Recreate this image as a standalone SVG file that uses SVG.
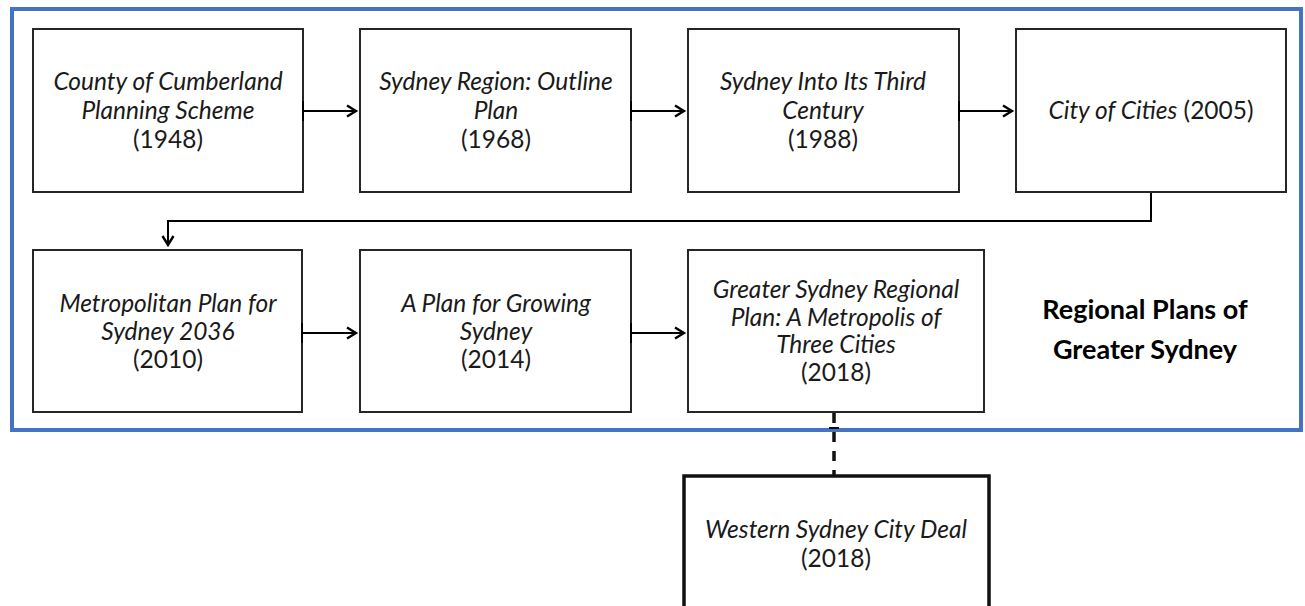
<svg xmlns="http://www.w3.org/2000/svg" width="1305" height="606" viewBox="0 0 1305 606">
<defs>
<style>
.box{fill:#fff;stroke:#262626;stroke-width:2}
.box8{fill:#fff;stroke:#111;stroke-width:3.5}
.t{font-family:Lato,"Liberation Sans",sans-serif;font-size:24.5px;fill:#1a1a1a;text-anchor:middle}
.i{font-style:italic}
.title{font-family:Lato,"Liberation Sans",sans-serif;font-size:27px;font-weight:bold;fill:#000;text-anchor:middle}
.c{fill:none;stroke:#000;stroke-width:2}
.d{fill:none;stroke:#111;stroke-width:3.5;stroke-dasharray:10,9}
</style>
<marker id="ah" markerWidth="14" markerHeight="14" refX="11" refY="7" orient="auto" markerUnits="userSpaceOnUse">
<path d="M2,1.5 L11,7 L2,12.5" fill="none" stroke="#000" stroke-width="2.4"/>
</marker>
</defs>
<rect width="1305" height="606" fill="#fff"/>
<rect x="12" y="9" width="1289" height="421" fill="none" stroke="#4472C4" stroke-width="4"/>
<g id="n1">
<rect class="box" x="33" y="29" width="270" height="163"/>
<text class="t i" x="168" y="90">County of Cumberland</text>
<text class="t i" x="168" y="119">Planning Scheme</text>
<text class="t" x="168" y="148">(1948)</text>
</g>
<g id="n2">
<rect class="box" x="360" y="29" width="271" height="163"/>
<text class="t i" x="496" y="90">Sydney Region: Outline</text>
<text class="t i" x="496" y="119">Plan</text>
<text class="t" x="496" y="148">(1968)</text>
</g>
<g id="n3">
<rect class="box" x="688" y="29" width="271" height="163"/>
<text class="t i" x="823" y="90">Sydney Into Its Third</text>
<text class="t i" x="823" y="119">Century</text>
<text class="t" x="823" y="148">(1988)</text>
</g>
<g id="n4">
<rect class="box" x="1016" y="29" width="270" height="163"/>
<text class="t" x="1151" y="119"><tspan class="i">City of Cities</tspan> (2005)</text>
</g>
<g id="n5">
<rect class="box" x="33" y="250" width="269" height="162"/>
<text class="t i" x="168" y="312">Metropolitan Plan for</text>
<text class="t i" x="168" y="340">Sydney 2036</text>
<text class="t" x="168" y="368">(2010)</text>
</g>
<g id="n6">
<rect class="box" x="360" y="250" width="271" height="162"/>
<text class="t i" x="496" y="312">A Plan for Growing</text>
<text class="t i" x="496" y="340">Sydney</text>
<text class="t" x="496" y="368">(2014)</text>
</g>
<g id="n7">
<rect class="box" x="688" y="250" width="296" height="162"/>
<text class="t i" x="836" y="298">Greater Sydney Regional</text>
<text class="t i" x="836" y="326">Plan: A Metropolis of</text>
<text class="t i" x="836" y="353">Three Cities</text>
<text class="t" x="836" y="381">(2018)</text>
</g>
<g id="title">
<text class="title" x="1145" y="319">Regional Plans of</text>
<text class="title" x="1145" y="359">Greater Sydney</text>
</g>
<g id="n8">
<rect class="box8" x="684" y="476" width="305" height="140"/>
<text class="t i" x="836" y="538">Western Sydney City Deal</text>
<text class="t" x="836" y="567">(2018)</text>
</g>
<g id="connectors">
<path class="c" d="M303,111 H356" marker-end="url(#ah)"/>
<path class="c" d="M303,101 V121" stroke-width="3"/>
<path class="c" d="M631,111 H684" marker-end="url(#ah)"/>
<path class="c" d="M631,101 V121" stroke-width="3"/>
<path class="c" d="M959,111 H1012" marker-end="url(#ah)"/>
<path class="c" d="M959,101 V121" stroke-width="3"/>
<path class="c" d="M1151,193 V221 H168 V245" stroke-width="2.5" marker-end="url(#ah)"/>
<path class="c" d="M302,333 H356" marker-end="url(#ah)"/>
<path class="c" d="M302,323 V343" stroke-width="3"/>
<path class="c" d="M631,333 H684" marker-end="url(#ah)"/>
<path class="c" d="M631,323 V343" stroke-width="3"/>
<path class="d" d="M834,413 V475"/>
<path class="c" d="M829,428 H839" stroke-width="2.5"/>
</g>
</svg>
